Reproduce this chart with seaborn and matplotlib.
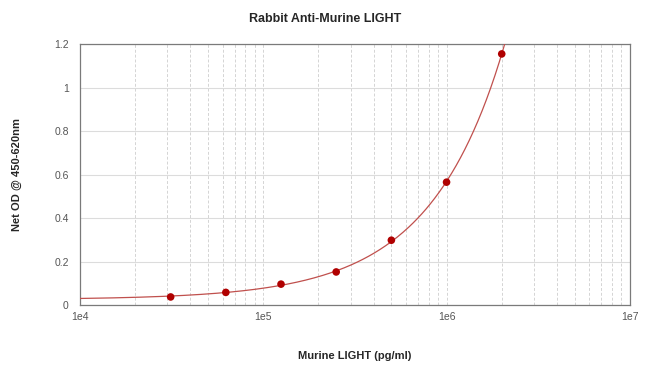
import numpy as np
import pandas as pd
import matplotlib
matplotlib.use('Agg')
import matplotlib.pyplot as plt
import matplotlib.ticker as mticker
import seaborn as sns

# Data
conc = [31250, 62500, 125000, 250000, 500000, 1000000, 2000000]
od = [0.037, 0.058, 0.096, 0.152, 0.298, 0.565, 1.155]
x_ticks = [1e4, 1e5, 1e6, 1e7]
x_tick_labels = ['1e4', '1e5', '1e6', '1e7']
y_ticks = [0, 0.2, 0.4, 0.6, 0.8, 1, 1.2]
y_tick_labels = ['0', '0.2', '0.4', '0.6', '0.8', '1', '1.2']

df = pd.DataFrame({'conc': conc, 'od': od})

# Fitted standard curve (quadratic in concentration)
coef = np.polyfit(df['conc'], df['od'], 2)
xs = np.logspace(4, np.log10(2.2e6), 300)
fit = pd.DataFrame({'conc': xs, 'od': np.polyval(coef, xs)})

sns.set_style('white')
plt.rcParams['font.family'] = ['Liberation Sans', 'DejaVu Sans']

fig = plt.figure(figsize=(6.5, 3.74), dpi=100)
ax = fig.add_axes([0.123, 0.1845, 0.846, 0.6975])

ax.set_xscale('log')
ax.set_xlim(1e4, 1e7)
ax.set_ylim(0, 1.2)

ax.xaxis.set_major_locator(mticker.FixedLocator(x_ticks))
ax.xaxis.set_minor_locator(mticker.LogLocator(base=10, subs=np.arange(2, 10)))
ax.xaxis.set_minor_formatter(mticker.NullFormatter())
ax.set_xticks(x_ticks)
ax.set_xticklabels(x_tick_labels)
ax.set_yticks(y_ticks)
ax.set_yticklabels(y_tick_labels)

ax.grid(True, which='major', axis='y', color='#dcdcdc', linewidth=0.8, linestyle='-')
ax.grid(True, which='both', axis='x', color='#d4d4d4', linewidth=0.7, linestyle=(0, (3, 2)))
ax.set_axisbelow(True)

sns.lineplot(data=fit, x='conc', y='od', ax=ax, color='#c0504d', linewidth=0.9, zorder=3)
sns.scatterplot(data=df, x='conc', y='od', ax=ax, color='#b00000', s=30, edgecolor='none', zorder=4)

for side in ['left', 'bottom', 'top', 'right']:
    ax.spines[side].set_visible(True)
    ax.spines[side].set_color('#7a7a7a')
    ax.spines[side].set_linewidth(0.9)

ax.tick_params(axis='both', which='both', length=0, labelsize=7.5, labelcolor='#555555')
ax.tick_params(axis='x', pad=5)
ax.tick_params(axis='y', pad=8)

ax.set_xlabel('Murine LIGHT (pg/ml)', fontsize=8, fontweight='bold', labelpad=21)
ax.set_ylabel('Net OD @ 450-620nm', fontsize=8, fontweight='bold', labelpad=23)
fig.text(0.5, 0.95, 'Rabbit Anti-Murine LIGHT', ha='center', va='center', fontsize=9, fontweight='bold')

fig.savefig('out.png', dpi=100)
